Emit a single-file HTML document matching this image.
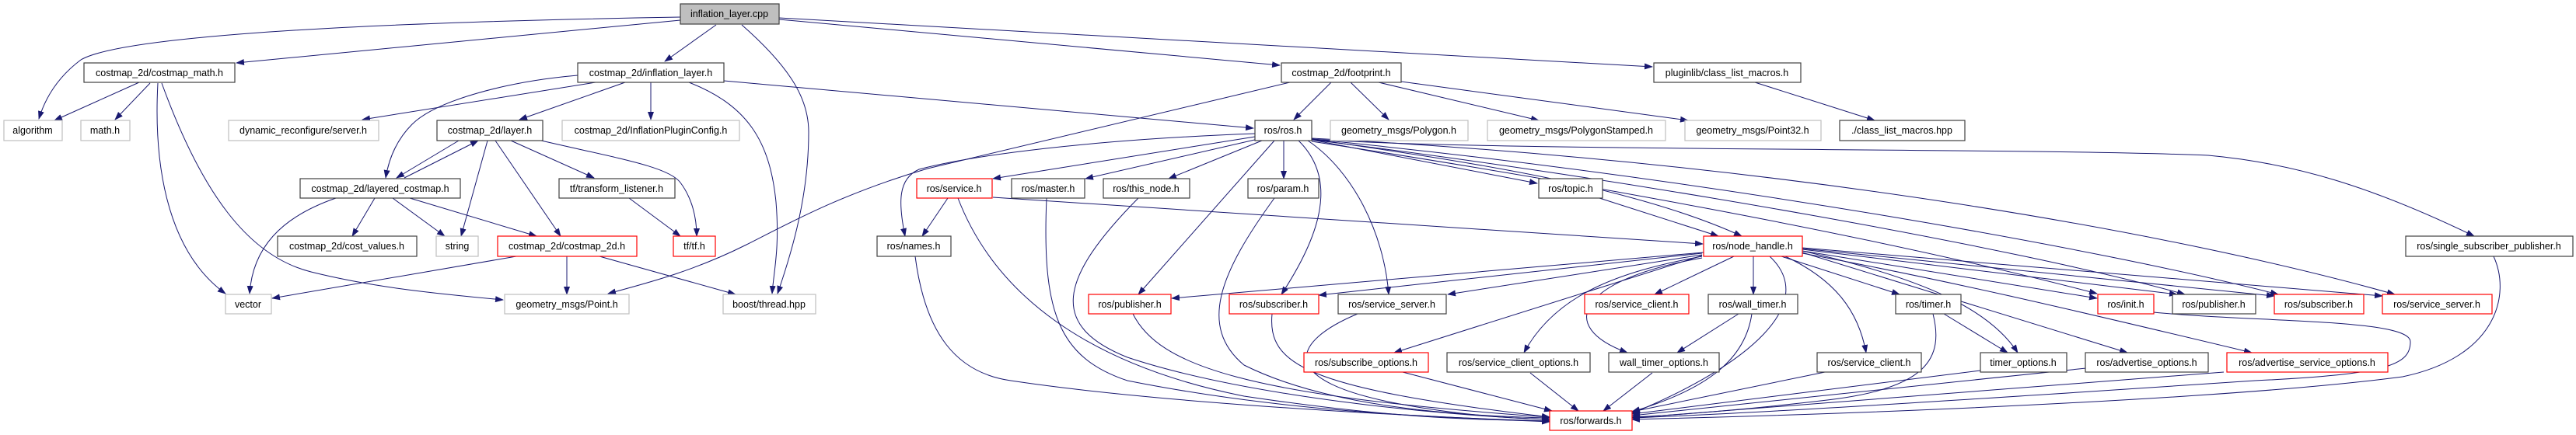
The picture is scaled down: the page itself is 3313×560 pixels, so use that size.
<!DOCTYPE html>
<html><head><meta charset="utf-8"><style>
html,body{margin:0;padding:0;background:#fff;}
svg{display:block;}
text{font-family:"Liberation Sans",Arial,sans-serif;font-size:12.5px;fill:#000;text-anchor:middle;}
.e{fill:none;stroke:#191970;stroke-width:1;marker-end:url(#a);}
.b{fill:#fff;stroke:#404040;stroke-width:1.2;}
.g{fill:#fff;stroke:#bfbfbf;stroke-width:1.2;}
.r{fill:#fff;stroke:#ff0000;stroke-width:1.2;}
</style></head><body>
<svg width="3313" height="560" viewBox="0 0 3313 560" xmlns="http://www.w3.org/2000/svg">
<defs><marker id="a" markerUnits="userSpaceOnUse" markerWidth="11" markerHeight="8" refX="10" refY="4" orient="auto"><path d="M0,0 L11,4 L0,8 z" fill="#191970"/></marker></defs>
<g>
<path class="e" d="M875,22 C400,30 150,50 104,77 C80,95 60,120 50,153"/>
<path class="e" d="M875,26 L304,81"/>
<path class="e" d="M179,106 L70,155"/>
<path class="e" d="M193,107 L148,154"/>
<path class="e" d="M203,107 C198,200 210,320 290,378"/>
<path class="e" d="M208,107 C260,250 320,330 400,350 C480,370 560,378 647,386"/>
<path class="e" d="M766,106 L466,154"/>
<path class="e" d="M743,97 C650,105 560,130 530,160 C510,180 500,205 496,229"/>
<path class="e" d="M804,106 L668,154"/>
<path class="e" d="M837,106 L837,154"/>
<path class="e" d="M886,106 C960,135 990,180 998,260 C1003,320 995,350 993,378"/>
<path class="e" d="M931,104 L1612,165"/>
<path class="e" d="M921,32 L855,79"/>
<path class="e" d="M954,32 C1020,90 1040,130 1040,170 C1040,250 1020,320 1000,378"/>
<path class="e" d="M1002,25 L1646,84"/>
<path class="e" d="M1002,23 L2125,86"/>
<path class="e" d="M590,181 L510,229"/>
<path class="e" d="M520,229 L615,181"/>
<path class="e" d="M432,255 C360,280 325,320 321,378"/>
<path class="e" d="M482,255 L453,304"/>
<path class="e" d="M505,255 L572,304"/>
<path class="e" d="M527,255 L690,304"/>
<path class="e" d="M627,181 L593,304"/>
<path class="e" d="M637,181 L721,304"/>
<path class="e" d="M657,181 L764,229"/>
<path class="e" d="M696,181 C800,205 860,215 875,235 C890,255 896,280 896,304"/>
<path class="e" d="M809,255 L875,304"/>
<path class="e" d="M664,330 L350,384"/>
<path class="e" d="M729,330 L729,379"/>
<path class="e" d="M771,330 L946,379"/>
<path class="e" d="M1659,106 L1193,217 C1080,250 1010,290 960,315 C890,350 830,365 782,378"/>
<path class="e" d="M1614,172 C1400,180 1250,200 1182,218 C1155,230 1155,260 1164,304"/>
<path class="e" d="M1614,176 L1277,230"/>
<path class="e" d="M1618,179 L1396,230"/>
<path class="e" d="M1623,181 L1503,230"/>
<path class="e" d="M1639,181 L1464,379"/>
<path class="e" d="M1651,181 L1651,230"/>
<path class="e" d="M1219,255 L1186,304"/>
<path class="e" d="M1232,255 C1280,380 1400,470 1600,510 C1800,540 1900,540 1993,542"/>
<path class="e" d="M1277,254 L2190,314"/>
<path class="e" d="M1177,330 C1190,430 1230,480 1300,490 C1500,520 1800,535 1993,543"/>
<path class="e" d="M1346,255 C1340,400 1360,460 1450,490 C1650,530 1850,538 1993,542"/>
<path class="e" d="M1464,255 C1360,360 1350,420 1450,460 C1600,510 1850,535 1993,540"/>
<path class="e" d="M1639,255 C1570,350 1540,420 1600,470 C1700,520 1850,535 1993,538"/>
<path class="e" d="M1457,404 C1490,470 1600,510 1993,537"/>
<path class="e" d="M1636,404 C1630,470 1680,500 1993,537"/>
<path class="e" d="M2191,325 L1507,384"/>
<path class="e" d="M2189,326 L1696,380"/>
<path class="e" d="M1670,181 C1720,230 1700,300 1648,379"/>
<path class="e" d="M1682,181 C1740,220 1780,300 1786,379"/>
<path class="e" d="M2189,328 L1862,379"/>
<path class="e" d="M1687,180 L1977,236"/>
<path class="e" d="M2057,255 L2210,304"/>
<path class="e" d="M1687,179 C1900,210 2100,240 2240,304"/>
<path class="e" d="M1746,404 C1660,440 1640,490 1800,520 C1880,535 1950,539 1993,540"/>
<path class="e" d="M2189,329 L1793,454"/>
<path class="e" d="M2189,330 C2080,350 2000,380 1960,454"/>
<path class="e" d="M2189,332 C2030,360 2000,420 2093,454"/>
<path class="e" d="M2230,330 L2128,379"/>
<path class="e" d="M2255,330 L2255,379"/>
<path class="e" d="M2291,330 L2443,379"/>
<path class="e" d="M2296,330 C2360,360 2390,400 2400,454"/>
<path class="e" d="M2318,323 C2480,360 2560,400 2595,454"/>
<path class="e" d="M2318,325 L2736,454"/>
<path class="e" d="M2318,323 L2697,384"/>
<path class="e" d="M2318,321 L2800,379"/>
<path class="e" d="M2318,320 L2925,381"/>
<path class="e" d="M2318,319 L3064,381"/>
<path class="e" d="M2318,326 C2500,360 2650,395 2896,454"/>
<path class="e" d="M2276,330 C2340,390 2250,470 2099,532"/>
<path class="e" d="M1687,182 C2000,230 2400,300 2697,378"/>
<path class="e" d="M1687,180 C2100,230 2600,320 2810,379"/>
<path class="e" d="M1687,179 C2200,230 2700,320 2930,379"/>
<path class="e" d="M1687,178 C2300,210 2800,300 3080,379"/>
<path class="e" d="M1687,179 C1900,195 2600,190 2840,200 C2950,210 3050,240 3182,304"/>
<path class="e" d="M3207,330 C3230,380 3210,460 3090,485 C2900,510 2500,530 2099,540"/>
<path class="e" d="M2770,402 C2900,415 3100,410 3100,440 C3100,470 3070,482 2900,490 C2600,510 2300,530 2099,538"/>
<path class="e" d="M2860,479 L2099,538"/>
<path class="e" d="M2683,474 L2099,535"/>
<path class="e" d="M2547,477 L2099,533"/>
<path class="e" d="M2347,479 L2099,530"/>
<path class="e" d="M2486,404 C2500,460 2480,500 2350,515 C2250,527 2150,535 2099,537"/>
<path class="e" d="M2236,404 L2157,454"/>
<path class="e" d="M2253,404 C2245,460 2200,500 2099,530"/>
<path class="e" d="M2500,404 L2582,454"/>
<path class="e" d="M2125,480 L2062,529"/>
<path class="e" d="M1968,480 L2030,529"/>
<path class="e" d="M1804,479 L1996,529"/>
<path class="e" d="M2257,106 L2411,155"/>
<path class="e" d="M1712,106 L1664,154"/>
<path class="e" d="M1737,106 L1786,154"/>
<path class="e" d="M1773,106 L1979,155"/>
<path class="e" d="M1802,105 L2171,155"/>
</g>
<g>
<rect x="875" y="5" width="127" height="26" fill="#bfbfbf" stroke="#404040" stroke-width="1.2"/><text x="938" y="22">inflation_layer.cpp</text>
<rect class="b" x="108" y="81" width="194" height="25"/><text x="205" y="98">costmap_2d/costmap_math.h</text>
<rect class="b" x="743" y="81" width="188" height="25"/><text x="837" y="98">costmap_2d/inflation_layer.h</text>
<rect class="b" x="1648" y="81" width="154" height="25"/><text x="1725" y="98">costmap_2d/footprint.h</text>
<rect class="b" x="2127" y="81" width="189" height="25"/><text x="2221" y="98">pluginlib/class_list_macros.h</text>
<rect class="g" x="5" y="155" width="75" height="26"/><text x="42" y="172">algorithm</text>
<rect class="g" x="104" y="155" width="63" height="26"/><text x="135" y="172">math.h</text>
<rect class="g" x="294" y="155" width="193" height="26"/><text x="390" y="172">dynamic_reconfigure/server.h</text>
<rect class="b" x="562" y="155" width="136" height="26"/><text x="630" y="172">costmap_2d/layer.h</text>
<rect class="g" x="723" y="155" width="228" height="26"/><text x="837" y="172">costmap_2d/InflationPluginConfig.h</text>
<rect class="b" x="1614" y="155" width="73" height="26"/><text x="1650" y="172">ros/ros.h</text>
<rect class="g" x="1711" y="155" width="177" height="26"/><text x="1799" y="172">geometry_msgs/Polygon.h</text>
<rect class="g" x="1913" y="155" width="229" height="26"/><text x="2027" y="172">geometry_msgs/PolygonStamped.h</text>
<rect class="g" x="2167" y="155" width="175" height="26"/><text x="2254" y="172">geometry_msgs/Point32.h</text>
<rect class="b" x="2366" y="155" width="161" height="26"/><text x="2446" y="172">./class_list_macros.hpp</text>
<rect class="b" x="386" y="230" width="206" height="25"/><text x="489" y="247">costmap_2d/layered_costmap.h</text>
<rect class="b" x="719" y="230" width="149" height="25"/><text x="793" y="247">tf/transform_listener.h</text>
<rect class="r" x="1179" y="230" width="97" height="25"/><text x="1227" y="247">ros/service.h</text>
<rect class="b" x="1301" y="230" width="94" height="25"/><text x="1348" y="247">ros/master.h</text>
<rect class="b" x="1419" y="230" width="111" height="25"/><text x="1474" y="247">ros/this_node.h</text>
<rect class="b" x="1605" y="230" width="91" height="25"/><text x="1650" y="247">ros/param.h</text>
<rect class="b" x="1979" y="230" width="82" height="25"/><text x="2020" y="247">ros/topic.h</text>
<rect class="b" x="357" y="304" width="179" height="26"/><text x="446" y="321">costmap_2d/cost_values.h</text>
<rect class="g" x="561" y="304" width="54" height="26"/><text x="588" y="321">string</text>
<rect class="r" x="640" y="304" width="179" height="26"/><text x="729" y="321">costmap_2d/costmap_2d.h</text>
<rect class="r" x="866" y="304" width="54" height="26"/><text x="893" y="321">tf/tf.h</text>
<rect class="b" x="1128" y="304" width="95" height="26"/><text x="1175" y="321">ros/names.h</text>
<rect class="r" x="2191" y="304" width="127" height="26"/><text x="2254" y="321">ros/node_handle.h</text>
<rect class="b" x="3094" y="304" width="215" height="26"/><text x="3201" y="321">ros/single_subscriber_publisher.h</text>
<rect class="g" x="290" y="379" width="59" height="25"/><text x="319" y="396">vector</text>
<rect class="g" x="649" y="379" width="160" height="25"/><text x="729" y="396">geometry_msgs/Point.h</text>
<rect class="g" x="930" y="379" width="119" height="25"/><text x="989" y="396">boost/thread.hpp</text>
<rect class="r" x="1400" y="379" width="106" height="25"/><text x="1453" y="396">ros/publisher.h</text>
<rect class="r" x="1581" y="379" width="115" height="25"/><text x="1638" y="396">ros/subscriber.h</text>
<rect class="b" x="1721" y="379" width="139" height="25"/><text x="1790" y="396">ros/service_server.h</text>
<rect class="r" x="2038" y="379" width="134" height="25"/><text x="2105" y="396">ros/service_client.h</text>
<rect class="b" x="2197" y="379" width="115" height="25"/><text x="2254" y="396">ros/wall_timer.h</text>
<rect class="b" x="2438" y="379" width="84" height="25"/><text x="2480" y="396">ros/timer.h</text>
<rect class="r" x="2698" y="379" width="72" height="25"/><text x="2734" y="396">ros/init.h</text>
<rect class="b" x="2794" y="379" width="107" height="25"/><text x="2847" y="396">ros/publisher.h</text>
<rect class="r" x="2925" y="379" width="115" height="25"/><text x="2982" y="396">ros/subscriber.h</text>
<rect class="r" x="3064" y="379" width="141" height="25"/><text x="3134" y="396">ros/service_server.h</text>
<rect class="r" x="1677" y="454" width="160" height="25"/><text x="1757" y="471">ros/subscribe_options.h</text>
<rect class="b" x="1861" y="454" width="184" height="25"/><text x="1953" y="471">ros/service_client_options.h</text>
<rect class="b" x="2069" y="454" width="142" height="25"/><text x="2140" y="471">wall_timer_options.h</text>
<rect class="b" x="2337" y="454" width="134" height="25"/><text x="2404" y="471">ros/service_client.h</text>
<rect class="b" x="2547" y="454" width="111" height="25"/><text x="2602" y="471">timer_options.h</text>
<rect class="b" x="2682" y="454" width="158" height="25"/><text x="2761" y="471">ros/advertise_options.h</text>
<rect class="r" x="2864" y="454" width="207" height="25"/><text x="2967" y="471">ros/advertise_service_options.h</text>
<rect class="r" x="1993" y="529" width="106" height="25"/><text x="2046" y="546">ros/forwards.h</text>
</g>
</svg>
</body></html>
